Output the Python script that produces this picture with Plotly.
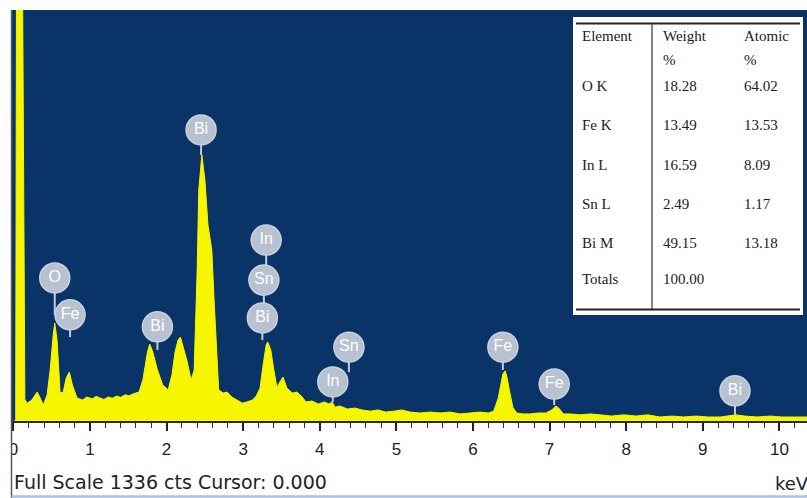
import plotly.graph_objects as go

# ---- EDS spectrum (energy in keV, intensity in counts) ----
energy_kev = [
    0.00, 0.03, 0.04, 0.12, 0.15, 0.18, 0.24, 0.31, 0.35, 0.39, 0.44, 0.48, 0.52, 0.54,
    0.57, 0.61, 0.65, 0.69, 0.73, 0.77, 0.83, 0.90, 0.96, 1.03, 1.08, 1.13, 1.18, 1.24,
    1.29, 1.35, 1.40, 1.46, 1.51, 1.56, 1.64, 1.69, 1.75, 1.78, 1.82, 1.88, 1.95, 2.02,
    2.07, 2.11, 2.15, 2.18, 2.21, 2.27, 2.32, 2.36, 2.40, 2.42, 2.46, 2.50, 2.54, 2.57,
    2.59, 2.62, 2.65, 2.68, 2.74, 2.79, 2.85, 2.92, 2.99, 3.05, 3.12, 3.17, 3.22, 3.26,
    3.30, 3.32, 3.36, 3.40, 3.44, 3.48, 3.52, 3.57, 3.64, 3.70, 3.76, 3.82, 3.90, 3.98,
    4.06, 4.12, 4.16, 4.20, 4.26, 4.36, 4.46, 4.55, 4.66, 4.76, 4.86, 4.97, 5.07, 5.18,
    5.31, 5.44, 5.57, 5.70, 5.83, 5.96, 6.09, 6.20, 6.27, 6.33, 6.37, 6.39, 6.42, 6.44,
    6.48, 6.52, 6.57, 6.65, 6.74, 6.85, 6.95, 7.03, 7.08, 7.12, 7.18, 7.27, 7.40, 7.53,
    7.66, 7.81, 7.97, 8.13, 8.28, 8.44, 8.60, 8.75, 8.91, 9.07, 9.23, 9.36, 9.43, 9.55,
    9.71, 9.88, 10.03, 10.20, 10.36,
]
counts = [
    0, 0, 1400, 1400, 70, 58, 68, 94, 75, 52, 85, 166, 280, 318,
    263, 91, 94, 140, 159, 117, 75, 68, 78, 72, 80, 75, 70, 78,
    74, 81, 77, 85, 82, 88, 94, 133, 224, 250, 224, 166, 117, 101,
    150, 224, 263, 273, 247, 192, 133, 166, 500, 751, 865, 783, 637, 579,
    556, 393, 231, 101, 91, 94, 78, 68, 58, 62, 68, 81, 107, 182,
    247, 257, 231, 166, 110, 127, 143, 107, 91, 94, 81, 62, 65, 55,
    62, 55, 62, 45, 49, 39, 42, 36, 32, 36, 29, 32, 36, 29,
    26, 29, 26, 29, 23, 26, 29, 26, 32, 75, 127, 153, 163, 146,
    94, 45, 26, 23, 23, 26, 26, 36, 49, 42, 23, 23, 20, 23,
    20, 16, 20, 16, 20, 13, 16, 13, 16, 13, 13, 16, 20, 16,
    13, 16, 13, 13, 13,
]
full_scale = 1336

# ---- peak identification markers ----
peak_elements = ["O", "Fe", "Bi", "Bi", "In", "Sn", "Bi", "Sn", "In", "Fe", "Fe", "Bi"]
peak_kev = [0.54, 0.74, 1.88, 2.45, 3.30, 3.27, 3.25, 4.38, 4.17, 6.39, 7.06, 9.42]
peak_label_counts = [465, 345, 306, 946, 588, 458, 335, 240, 127, 240, 120, 98]
peak_stem_end = [345, 273, 231, 865, 458, 335, 263, 159, 62, 166, 52, 20]

# ---- quantification table ----
table_elements = ["O K", "Fe K", "In L", "Sn L", "Bi M", "Totals"]
weight_pct = ["18.28", "13.49", "16.59", "2.49", "49.15", "100.00"]
atomic_pct = ["64.02", "13.53", "8.09", "1.17", "13.18", ""]

x_ticks = list(range(0, 11))

# ---- figure geometry (pixels) ----
W, H = 807, 498
ML, MR, MT, MB = 11, 0, 10, 77
PW, PH = W - ML - MR, H - MT - MB
PX_PER_KEV = 76.6
X0_PX = 13.4  # pixel position of 0 keV


def px(x):
    return (x - ML) / PW


def py(y):
    return (H - MB - y) / PH


NAVY = "#0a3468"
YELLOW = "#f6f600"

fig = go.Figure()

fig.add_trace(go.Scatter(
    x=energy_kev, y=counts, mode="lines",
    line=dict(color=YELLOW, width=1),
    fill="tozeroy", fillcolor=YELLOW,
    hoverinfo="skip", showlegend=False,
))

# stems under the element markers
stem_x, stem_y = [], []
for e, c0, c1 in zip(peak_kev, peak_label_counts, peak_stem_end):
    stem_x += [e, e, None]
    stem_y += [c0, c1, None]
fig.add_trace(go.Scatter(
    x=stem_x, y=stem_y, mode="lines",
    line=dict(color="#c3cbd8", width=2),
    hoverinfo="skip", showlegend=False,
))

fig.add_trace(go.Scatter(
    x=peak_kev, y=peak_label_counts, mode="markers+text",
    marker=dict(size=30, color="#b7c1d0", line=dict(width=1.5, color="#cad2de")),
    text=peak_elements, textposition="middle center",
    textfont=dict(family="Liberation Sans", size=16, color="white"),
    cliponaxis=False, hoverinfo="skip", showlegend=False,
))

x_min = (ML - X0_PX) / PX_PER_KEV
x_max = (W - MR - X0_PX) / PX_PER_KEV

fig.update_xaxes(
    range=[x_min, x_max],
    tickmode="array", tickvals=x_ticks, ticktext=[str(t) for t in x_ticks],
    ticks="outside", ticklen=8, tickwidth=1.5, tickcolor="#222",
    minor=dict(dtick=0.2, tick0=0, ticks="outside", ticklen=5, tickwidth=1.2, tickcolor="#333"),
    showline=True, linecolor="#2a2a2a", linewidth=1.5,
    showgrid=False, zeroline=False,
    ticklabelstandoff=4,
    tickfont=dict(family="Liberation Sans", size=17, color="#222"),
)
fig.update_yaxes(
    range=[0, full_scale], showticklabels=False, ticks="",
    showgrid=False, zeroline=False, showline=False,
)

shapes = []
annotations = []

# frame: left edge and bottom strip
shapes.append(dict(type="rect", xref="paper", yref="paper",
                   x0=px(0), x1=px(ML), y0=py(H), y1=py(MT),
                   fillcolor="white", line=dict(width=0), layer="above"))
shapes.append(dict(type="line", xref="paper", yref="paper",
                   x0=px(11.5), x1=px(11.5), y0=py(H), y1=py(MT),
                   line=dict(color="#5a5a5a", width=1.5), layer="above"))
shapes.append(dict(type="line", xref="paper", yref="paper",
                   x0=px(11.5), x1=px(W), y0=py(496.5), y1=py(496.5),
                   line=dict(color="#a8c2e0", width=2.5), layer="above"))

# quantification table
TX0, TX1, TY0, TY1 = 573, 803, 17, 315
shapes.append(dict(type="rect", xref="paper", yref="paper",
                   x0=px(TX0), x1=px(TX1), y0=py(TY1), y1=py(TY0),
                   fillcolor="white", line=dict(width=0), layer="above"))
for yy in (23.5, 309.5):
    shapes.append(dict(type="line", xref="paper", yref="paper",
                       x0=px(576), x1=px(800), y0=py(yy), y1=py(yy),
                       line=dict(color="#222", width=2.2), layer="above"))
shapes.append(dict(type="line", xref="paper", yref="paper",
                   x0=px(652), x1=px(652), y0=py(309), y1=py(24),
                   line=dict(color="#333", width=1.2), layer="above"))

col_x = [580, 661, 742]
serif = dict(family="Liberation Serif", size=15, color="#222")


def cell(text, x, y):
    annotations.append(dict(text=text, x=px(x), y=py(y), xref="paper", yref="paper",
                            xanchor="left", yanchor="middle", showarrow=False, font=serif))


cell("Element", col_x[0], 36)
cell("Weight", col_x[1], 36)
cell("Atomic", col_x[2], 36)
cell("%", col_x[1], 60)
cell("%", col_x[2], 60)
row_y = [86, 125, 165, 204, 243, 279]
for name, w, a, y in zip(table_elements, weight_pct, atomic_pct, row_y):
    cell(name, col_x[0], y)
    cell(w, col_x[1], y)
    if a:
        cell(a, col_x[2], y)

annotations.append(dict(text=f"Full Scale {full_scale} cts Cursor: 0.000",
                        x=px(12), y=py(482), xref="paper", yref="paper",
                        xanchor="left", yanchor="middle", showarrow=False,
                        font=dict(family="DejaVu Sans", size=19, color="#222")))
annotations.append(dict(text="keV", x=px(811), y=py(483), xref="paper", yref="paper",
                        xanchor="right", yanchor="middle", showarrow=False,
                        font=dict(family="DejaVu Sans", size=18, color="#222")))

fig.update_layout(
    width=W, height=H,
    margin=dict(l=ML, r=MR, t=MT, b=MB),
    paper_bgcolor="white", plot_bgcolor=NAVY,
    shapes=shapes, annotations=annotations,
    showlegend=False,
)

fig.write_html("out.html")
